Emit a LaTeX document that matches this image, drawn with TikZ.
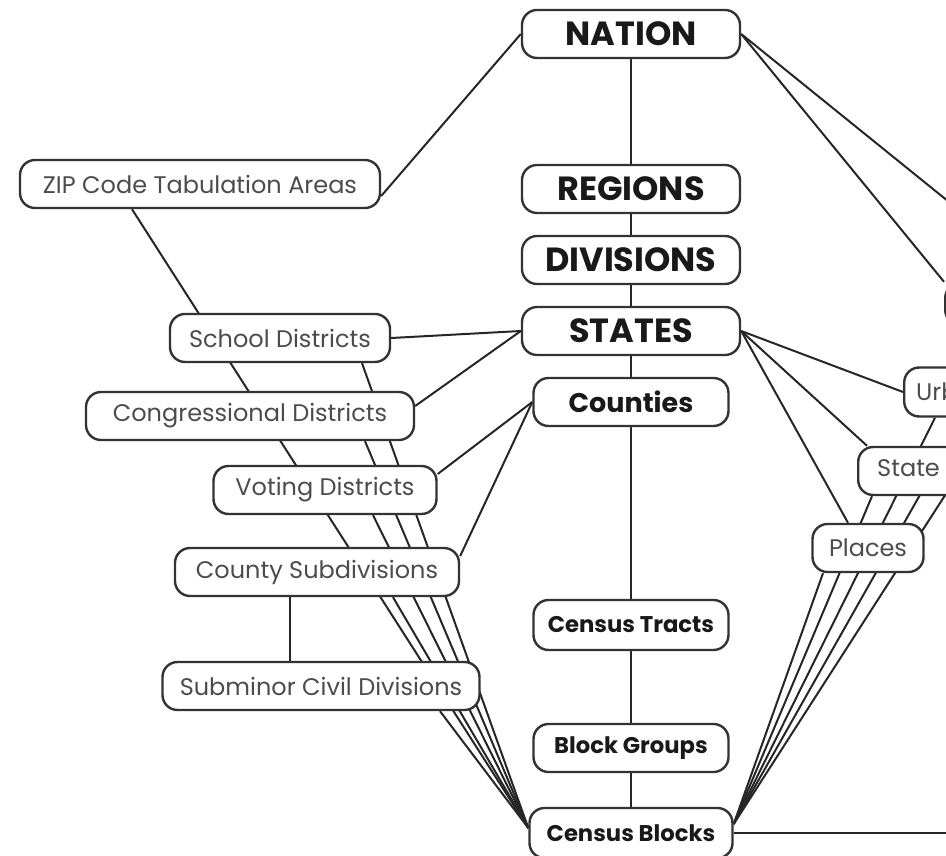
\documentclass[tikz,border=0pt]{standalone}
\usepackage{fontspec}
\setmainfont{Poppins}
\pgfdeclarelayer{bg}
\pgfsetlayers{bg,main}

\begin{document}
\begin{tikzpicture}[
		x=1pt, y=-1pt,
		% one style per kind of box
		geoBox/.style={draw=black!80, line width=2.4pt, rounded corners=15pt, fill=white, inner sep=0pt, minimum height=48pt},
		topBox/.style={geoBox, minimum width=218pt, text=black!90, font=\fontsize{33.5}{33.5}\selectfont\bfseries},
		midBox/.style={geoBox, minimum width=195pt, text=black!90, font=\fontsize{22.7}{22.7}\selectfont\bfseries},
		sideBox/.style={geoBox, text=black!70, font=\fontsize{24}{24}\selectfont},
		link/.style={black!85, line width=2pt}
	]

	% frame of the cut-out
	\useasboundingbox (0,0) rectangle (946,856);
	\clip (0,0) rectangle (946,856);

	% --- 1. centre column ---
	\node[topBox] (nation) at (631,34) {NATION};
	\node[topBox] (regions) at (631,189) {REGIONS};
	\node[topBox] (divisions) at (631,260) {DIVISIONS};
	\node[topBox] (states) at (631,331) {STATES};
	\node[midBox, font=\fontsize{27}{27}\selectfont\bfseries] (counties) at (631,402) {Counties};
	\node[midBox, minimum height=50pt] (tracts) at (631,625) {Census Tracts};
	\node[midBox] (groups) at (631,748) {Block Groups};
	\node[midBox, minimum width=203pt, minimum height=50pt] (blocks) at (631,833) {Census Blocks};

	% --- 2. left column ---
	\node[sideBox, minimum width=360pt] (zcta) at (200,184) {ZIP Code Tabulation Areas};
	\node[sideBox, minimum width=220pt] (school) at (280,338) {School Districts};
	\node[sideBox, minimum width=328pt] (congress) at (250,416) {Congressional Districts};
	\node[sideBox, minimum width=223pt] (voting) at (325,490) {Voting Districts};
	\node[sideBox, minimum width=284pt] (cousub) at (317,572) {County Subdivisions};
	\node[sideBox, minimum width=317pt] (submcd) at (321,686) {Subminor Civil Divisions};

	% --- 3. right column, cut by the frame ---
	\node[sideBox, anchor=west, minimum width=200pt, minimum height=42pt] (offA) at (944,304) {};
	\node[sideBox, anchor=west, inner xsep=12pt, minimum height=49pt] (urban) at (903,392) {Urban Areas};
	\node[sideBox, anchor=west, inner xsep=19pt] (stateleg) at (857,471) {State Legislative Districts};
	\node[sideBox, minimum width=111pt] (places) at (868,548) {Places};
	\coordinate (offB) at (1100,324);
	\coordinate (offC) at (1000,833);
	\coordinate (offD) at (1028,304);
	\coordinate (offE) at (1068,304);

	% --- 4. connectors, under the boxes ---
	\begin{pgfonlayer}{bg}
		\clip (0,0) rectangle (946,856);
		\draw[link] (nation) -- (regions) -- (divisions) -- (states) -- (counties) -- (tracts) -- (groups) -- (blocks);

		\draw[link] (nation.west) -- ([yshift=-12pt]zcta.east);
		\draw[link] (school.east) -- (states.west);
		\draw[link] ([yshift=10pt]congress.east) -- (states.west);
		\draw[link] ([yshift=16pt]voting.east) -- (counties.west);
		\draw[link] ([yshift=16pt]cousub.east) -- (counties.west);
		\draw[link] ([xshift=-27pt]cousub.south) -- ([xshift=-31pt]submcd.north);
		\foreach \src/\dx in {zcta/-68, school/82, congress/115, voting/48, cousub/76, submcd/119}
			\draw[link] ([xshift=\dx pt]\src.south) -- ([yshift=5pt]blocks.west);

		\draw[link] (nation.east) -- (offA.north west);
		\draw[link] (nation.east) -- (offB);
		\draw[link] (states.east) -- (urban.west);
		\draw[link] (states.east) -- ([xshift=10pt]stateleg.north west);
		\draw[link] (states.east) -- ([xshift=-20pt]places.north);
		\draw[link] ([xshift=32pt]urban.south west) -- ([yshift=9pt]blocks.east);
		\draw[link] ([xshift=15pt]stateleg.south west) -- ([yshift=9pt]blocks.east);
		\draw[link] ([xshift=-45pt]places.south) -- ([yshift=9pt]blocks.east);
		\draw[link] (offD) -- ([yshift=9pt]blocks.east);
		\draw[link] (offE) -- ([yshift=9pt]blocks.east);
		\draw[link] (blocks.east) -- (offC);
	\end{pgfonlayer}

\end{tikzpicture}
\end{document}
